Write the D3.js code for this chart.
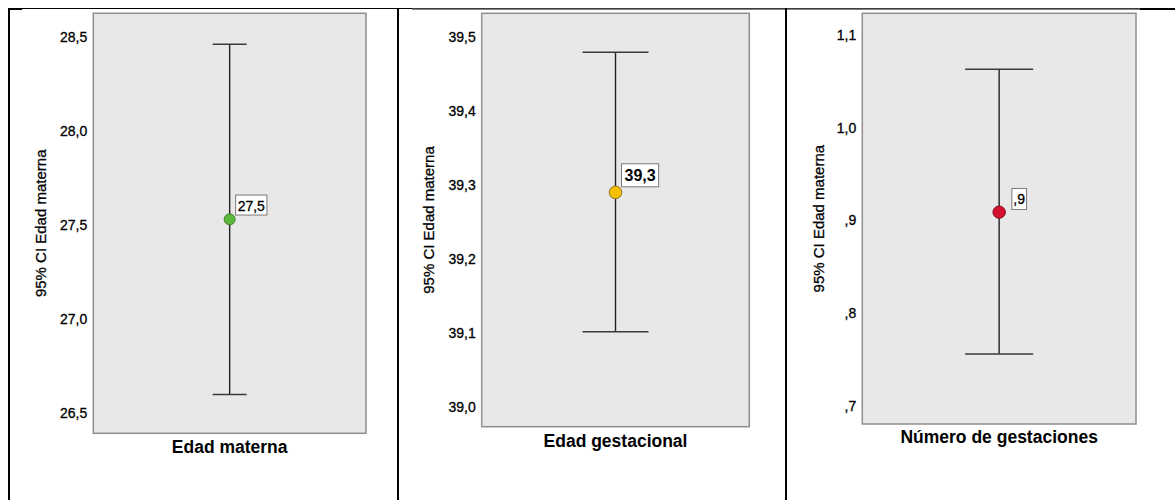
<!DOCTYPE html>
<html>
<head>
<meta charset="utf-8">
<script src="https://cdn.jsdelivr.net/npm/d3@7/dist/d3.min.js"></script>
<style>
  body { margin: 0; background: #fff; }
  svg { display: block; font-family: "Liberation Sans", Arial, sans-serif; }
</style>
</head>
<body>
<svg id="chart" width="1175" height="500"></svg>
<script>
// ---- data ----
const categories = ["Edad materna", "Edad gestacional", "Número de gestaciones"];
const yTitles = ["95% CI Edad materna", "95% CI Edad materna", "95% CI Edad materna"];
const means = [27.53, 39.29, 0.909];
const lowerCI = [26.60, 39.102, 0.756];
const upperCI = [28.46, 39.479, 1.063];
const meanLabels = ["27,5", "39,3", ",9"];
const yDomains = [[26.394, 28.624], [38.974, 39.5315], [0.6806, 1.1234]];
const tickValues = [
  [26.5, 27.0, 27.5, 28.0, 28.5],
  [39.0, 39.1, 39.2, 39.3, 39.4, 39.5],
  [0.7, 0.8, 0.9, 1.0, 1.1]
];
const tickLabels = [
  ["26,5", "27,0", "27,5", "28,0", "28,5"],
  ["39,0", "39,1", "39,2", "39,3", "39,4", "39,5"],
  [",7", ",8", ",9", "1,0", "1,1"]
];
const pointColors = ["#5cb83c", "#f6c000", "#d3102e"];
const pointStrokes = ["#3d7f25", "#8a7226", "#8a0a1c"];

// ---- layout (not data) ----
const panels = [
  { x0: 93.3, x1: 366, y0: 13.3, y1: 433.3, yTitleX: 40, capHalf: 17, r: 5.5,
    lbl: { dx: 6, dy: -4.3, size: 14, weight: "normal", pad: 2, h: 20 }, xTitleDy: 20 },
  { x0: 481.7, x1: 749.3, y0: 13.3, y1: 426.7, yTitleX: 428.3, capHalf: 33, r: 6.3,
    lbl: { dx: 6, dy: -5.6, size: 16, weight: "bold", pad: 3, h: 23 }, xTitleDy: 20 },
  { x0: 862.3, x1: 1136, y0: 13.3, y1: 424, yTitleX: 818.3, capHalf: 34, r: 6.2,
    lbl: { dx: 12.7, dy: -2.7, size: 14, weight: "normal", pad: 1.5, h: 21 }, xTitleDy: 19.3 }
];

const svg = d3.select("#chart");
svg.append("rect").attr("width", 1175).attr("height", 500).attr("fill", "#fff");

// table borders
const border = svg.append("g").attr("stroke", "#000").attr("fill", "none");
border.append("line").attr("x1", 8).attr("x2", 412).attr("y1", 8.5).attr("y2", 8.5).attr("stroke-width", 1.2);
border.append("line").attr("x1", 412).attr("x2", 1140).attr("y1", 8.8).attr("y2", 8.8).attr("stroke-width", 1.2);
border.append("line").attr("x1", 1140).attr("x2", 1175).attr("y1", 9).attr("y2", 9).attr("stroke-width", 1.8);
border.append("line").attr("x1", 8).attr("x2", 22).attr("y1", 9).attr("y2", 9).attr("stroke-width", 2);
[9, 398, 786].forEach(x => {
  border.append("line").attr("x1", x).attr("x2", x).attr("y1", 8).attr("y2", 500).attr("stroke-width", 2);
});

categories.forEach((cat, i) => {
  const p = panels[i];
  const g = svg.append("g");
  const y = d3.scaleLinear().domain(yDomains[i]).range([p.y1, p.y0]);
  const x = d3.scaleBand().domain([cat]).range([p.x0, p.x1]);
  const cx = x(cat) + x.bandwidth() / 2;

  // plot background
  g.append("rect")
    .attr("x", p.x0).attr("y", p.y0)
    .attr("width", p.x1 - p.x0).attr("height", p.y1 - p.y0)
    .attr("fill", "#e8e8e8").attr("stroke", "#8f8f8f").attr("stroke-width", 1.5);

  // y axis
  const ax = g.append("g")
    .attr("transform", `translate(${p.x0},0)`)
    .call(d3.axisLeft(y).tickValues(tickValues[i]).tickSize(0).tickPadding(6)
      .tickFormat((d, j) => tickLabels[i][j]));
  ax.select(".domain").remove();
  ax.selectAll("text").attr("font-size", 14).attr("fill", "#000")
    .attr("stroke", "#000").attr("stroke-width", 0.3)
    .attr("font-family", "'Liberation Sans', Arial, sans-serif");

  // y title
  g.append("text")
    .attr("transform", `translate(${p.yTitleX},${(p.y0 + p.y1) / 2}) rotate(-90)`)
    .attr("text-anchor", "middle").attr("dominant-baseline", "central")
    .attr("font-size", 15).attr("fill", "#000")
    .attr("stroke", "#000").attr("stroke-width", 0.3)
    .text(yTitles[i]);

  // x title
  g.append("text")
    .attr("x", cx).attr("y", p.y1 + p.xTitleDy)
    .attr("text-anchor", "middle")
    .attr("font-size", 17.5).attr("font-weight", "bold").attr("fill", "#000")
    .text(cat);

  // error bar
  const eb = g.append("g").attr("stroke", "#222").attr("stroke-width", 1.4);
  eb.append("line").attr("x1", cx).attr("x2", cx).attr("y1", y(upperCI[i])).attr("y2", y(lowerCI[i]));
  eb.append("line").attr("x1", cx - p.capHalf).attr("x2", cx + p.capHalf)
    .attr("y1", y(upperCI[i])).attr("y2", y(upperCI[i])).attr("stroke", "#3a3a3a").attr("stroke-width", 1.6);
  eb.append("line").attr("x1", cx - p.capHalf).attr("x2", cx + p.capHalf)
    .attr("y1", y(lowerCI[i])).attr("y2", y(lowerCI[i])).attr("stroke", "#3a3a3a").attr("stroke-width", 1.6);

  // mean point
  const cy = y(means[i]);
  g.append("circle").attr("cx", cx).attr("cy", cy).attr("r", p.r)
    .attr("fill", pointColors[i]).attr("stroke", pointStrokes[i]).attr("stroke-width", 1);

  // label box
  const L = p.lbl;
  const lg = g.append("g");
  const rect = lg.append("rect").attr("fill", "#fff").attr("stroke", "#7a7a7a").attr("stroke-width", 1);
  const t = lg.append("text")
    .attr("font-size", L.size).attr("font-weight", L.weight).attr("fill", "#000")
    .attr("stroke", L.weight === "bold" ? "none" : "#000").attr("stroke-width", 0.3)
    .attr("dominant-baseline", "central")
    .text(meanLabels[i]);
  const tw = t.node().getComputedTextLength();
  const bx = cx + L.dx, bBottom = cy + L.dy;
  rect.attr("x", bx).attr("y", bBottom - L.h).attr("width", tw + 2 * L.pad).attr("height", L.h);
  t.attr("x", bx + L.pad).attr("y", bBottom - L.h / 2 + 0.5);
});
</script>
</body>
</html>
